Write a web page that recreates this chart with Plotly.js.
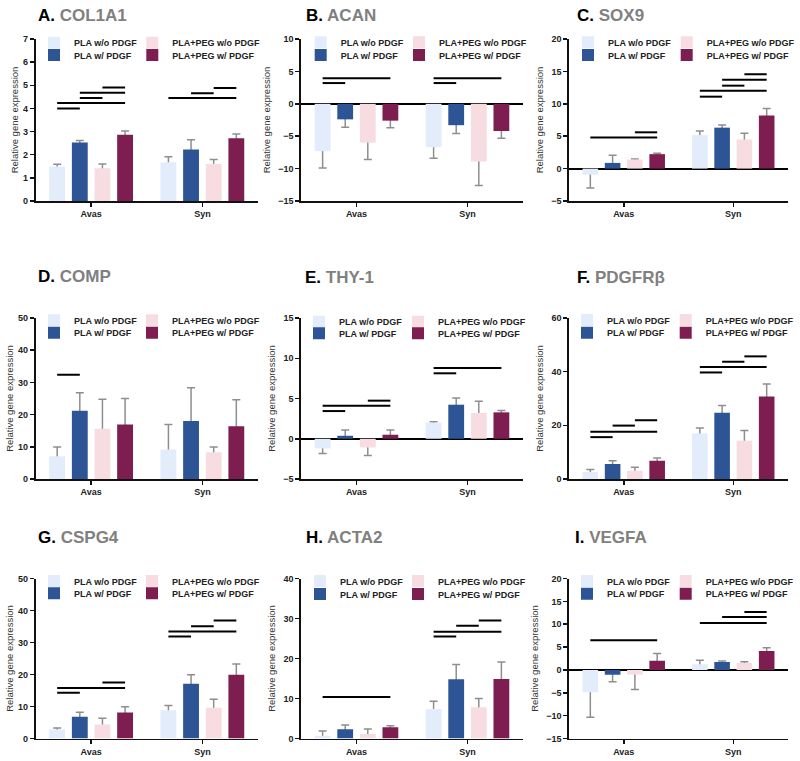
<!DOCTYPE html>
<html><head><meta charset="utf-8">
<script src="https://cdn.plot.ly/plotly-3.0.1.min.js"></script>
<style>body{margin:0;background:#fff}#chart{width:800px;height:761px}</style>
</head><body><div id="chart"></div>
<script>
// ---------- DATA ----------
const categories = ['Avas', 'Syn'];
const seriesNames = ['PLA w/o PDGF', 'PLA w/ PDGF', 'PLA+PEG w/o PDGF', 'PLA+PEG w/ PDGF'];
const panelLetters = ['A.', 'B.', 'C.', 'D.', 'E.', 'F.', 'G.', 'H.', 'I.'];
const geneNames = ['COL1A1', 'ACAN', 'SOX9', 'COMP', 'THY-1', 'PDGFRβ', 'CSPG4', 'ACTA2', 'VEGFA'];
const yAxisTitle = 'Relative gene expression';

// means: one [Avas, Syn] pair per series (order as seriesNames)
const col1a1Mean = [[1.49, 1.67], [2.53, 2.22], [1.41, 1.60], [2.86, 2.71]];
const col1a1Err  = [[0.10, 0.24], [0.08, 0.43], [0.19, 0.19], [0.17, 0.19]];
// significance bars: [category index, from series, to series, level]
const col1a1Sig  = [[0, 0, 1, 4.0], [0, 0, 3, 4.23], [0, 1, 2, 4.45], [0, 1, 3, 4.68], [0, 2, 3, 4.9], [1, 0, 3, 4.45], [1, 1, 2, 4.66], [1, 2, 3, 4.88]];

const acanMean = [[-7.3, -6.7], [-2.4, -3.3], [-6.0, -8.9], [-2.6, -4.2]];
const acanErr  = [[2.6, 1.7], [1.2, 1.3], [2.6, 3.7], [1.1, 1.1]];
const acanSig  = [[0, 0, 3, 3.95], [0, 0, 1, 3.2], [1, 0, 3, 3.95], [1, 0, 1, 3.2]];

const sox9Mean = [[-0.93, 5.18], [0.88, 6.32], [1.4, 4.5], [2.23, 8.19]];
const sox9Err  = [[2.07, 0.62], [1.19, 0.42], [0.1, 0.94], [0.15, 1.08]];
const sox9Sig  = [[0, 0, 3, 4.8], [0, 2, 3, 5.6], [1, 0, 1, 11.1], [1, 0, 3, 12.0], [1, 1, 2, 12.8], [1, 1, 3, 13.7], [1, 2, 3, 14.56]];

const compMean = [[7.1, 9.2], [21.2, 18.0], [15.6, 8.3], [16.9, 16.4]];
const compErr  = [[2.8, 7.7], [5.6, 10.3], [9.2, 1.6], [8.1, 8.2]];
const compSig  = [[0, 0, 1, 32.4]];

const thy1Mean = [[-1.2, 2.0], [0.37, 4.23], [-1.08, 3.2], [0.5, 3.28]];
const thy1Err  = [[0.63, 0.1], [0.71, 0.83], [0.99, 1.45], [0.58, 0.22]];
const thy1Sig  = [[0, 0, 1, 3.44], [0, 0, 3, 4.1], [0, 2, 3, 4.73], [1, 0, 1, 8.13], [1, 0, 3, 8.8]];

const pdgfrbMean = [[2.6, 17.0], [5.6, 24.7], [3.1, 14.3], [6.8, 30.7]];
const pdgfrbErr  = [[0.9, 2.0], [1.2, 2.7], [1.3, 3.8], [1.0, 4.7]];
const pdgfrbSig  = [[0, 0, 1, 15.6], [0, 0, 3, 17.6], [0, 1, 2, 19.9], [0, 2, 3, 21.9], [1, 0, 1, 39.7], [1, 0, 3, 41.7], [1, 1, 2, 43.7], [1, 2, 3, 45.7]];

const cspg4Mean = [[2.8, 8.85], [6.8, 17.1], [4.4, 9.6], [8.1, 19.9]];
const cspg4Err  = [[0.5, 1.45], [1.4, 2.8], [1.95, 2.7], [1.8, 3.4]];
const cspg4Sig  = [[0, 0, 1, 14.3], [0, 0, 3, 15.8], [0, 2, 3, 17.5], [1, 0, 1, 31.9], [1, 0, 3, 33.4], [1, 1, 2, 35.1], [1, 2, 3, 36.9]];

const acta2Mean = [[0.67, 7.4], [2.34, 14.8], [1.1, 7.8], [2.84, 14.9]];
const acta2Err  = [[1.23, 1.9], [1.06, 3.7], [1.3, 2.2], [0.36, 4.2]];
const acta2Sig  = [[0, 0, 3, 10.4], [1, 0, 1, 25.5], [1, 0, 3, 26.7], [1, 1, 2, 28.2], [1, 2, 3, 29.5]];

const vegfaMean = [[-4.86, 1.24], [-1.07, 1.75], [-1.0, 1.53], [2.0, 4.15]];
const vegfaErr  = [[5.5, 0.86], [1.5, 0.21], [3.3, 0.27], [1.57, 0.72]];
const vegfaSig  = [[0, 0, 3, 6.5], [1, 0, 3, 10.25], [1, 1, 3, 11.56], [1, 2, 3, 12.65]];

const yRanges = [[0, 7], [-15, 10], [-5, 20], [0, 50], [-5, 15], [0, 60], [0, 50], [0, 40], [-15, 20]];
const yDticks = [1, 5, 5, 10, 5, 20, 10, 10, 5];

// ---------- STYLE / LAYOUT ----------
const barColors = ['#e3ecfb', '#2d5595', '#f7dde2', '#7e1d4f'];
const errColor = '#8e8e8e';
const FONT = 'Liberation Sans, Arial, sans-serif';
const W = 800, H = 761;
const bargap = 0.186, bargroupgap = 0.3;

const meansAll = [col1a1Mean, acanMean, sox9Mean, compMean, thy1Mean, pdgfrbMean, cspg4Mean, acta2Mean, vegfaMean];
const errsAll = [col1a1Err, acanErr, sox9Err, compErr, thy1Err, pdgfrbErr, cspg4Err, acta2Err, vegfaErr];
const sigsAll = [col1a1Sig, acanSig, sox9Sig, compSig, thy1Sig, pdgfrbSig, cspg4Sig, acta2Sig, vegfaSig];

// plot-area pixel boxes
const colPx = [[35.5, 258], [301, 523], [569, 788]];
const rowPx = [[39, 201], [318, 479], [578.5, 738.5]];
const titlePos = [[36, 16], [304, 16], [575, 16], [36, 276], [303, 277], [575, 277], [36, 537], [304, 537], [573, 537]];
const legendRowsY = [[42.7, 55], [42.3, 55], [42.3, 55], [320.3, 332.7], [321.7, 333.3], [320, 332.7], [581, 593.3], [581, 594], [581, 593.7]];
const legendColX = [[55, 153.3], [321.7, 420], [589, 687.7], [55, 153], [320, 419], [588, 686.7], [55, 153], [321, 419], [588, 686.7]];
const titleStandoff = [3, 6, 6];

const data = [];
const layout = {
  width: W, height: H,
  margin: {l: 0, r: 0, t: 0, b: 0},
  paper_bgcolor: '#fff', plot_bgcolor: 'rgba(0,0,0,0)',
  barmode: 'group', bargap: bargap, bargroupgap: bargroupgap,
  font: {family: FONT, color: '#222'},
  shapes: [], annotations: []
};

const slot = (1 - bargap) / 4;
function barCenter(cat, k) { return cat + (k - 1.5) * slot; }

let legendCount = 0;
function newLegendId() { legendCount++; return legendCount === 1 ? 'legend' : 'legend' + legendCount; }

for (let p = 0; p < 9; p++) {
  const r = Math.floor(p / 3), c = p % 3;
  const sfx = p === 0 ? '' : String(p + 1);
  const xa = 'x' + sfx, ya = 'y' + sfx;
  // error-bar carriers (drawn underneath the visible bars)
  for (let k = 0; k < 4; k++) {
    const vals = meansAll[p][k];
    const errs = errsAll[p][k];
    data.push({
      type: 'bar', x: categories, y: vals, name: seriesNames[k] + ' SEM',
      xaxis: xa, yaxis: ya, offsetgroup: String(k), showlegend: false,
      marker: {color: 'rgba(0,0,0,0)', line: {width: 0}},
      error_y: {
        type: 'data', symmetric: false,
        array: vals.map((v, i) => v >= 0 ? errs[i] : Math.abs(v) * 0.5),
        arrayminus: vals.map((v, i) => v < 0 ? errs[i] : Math.abs(v) * 0.5),
        color: errColor, thickness: 1.5, width: 4
      },
      hoverinfo: 'skip'
    });
  }
  // visible bars, one legend per entry (2x2 grid)
  for (let k = 0; k < 4; k++) {
    const legId = newLegendId();
    data.push({
      type: 'bar', x: categories, y: meansAll[p][k], name: seriesNames[k],
      xaxis: xa, yaxis: ya, offsetgroup: String(k), legend: legId,
      marker: {color: barColors[k], line: {width: 0}},
      hoverinfo: 'skip'
    });
    const colIdx = (k === 0 || k === 1) ? 0 : 1;
    const rowIdx = (k === 0 || k === 2) ? 0 : 1;
    layout[legId] = {
      orientation: 'v', xanchor: 'left', yanchor: 'middle',
      x: (legendColX[p][colIdx] - 21) / W, y: 1 - legendRowsY[p][rowIdx] / H,
      bgcolor: 'rgba(0,0,0,0)', borderwidth: 0,
      font: {size: 9, family: FONT, color: '#222', weight: 'bold'},
      itemclick: false, itemdoubleclick: false
    };
  }
  const [xl, xr] = colPx[c];
  const [yt, yb] = rowPx[r];
  const hasNeg = yRanges[p][0] < 0;
  layout['xaxis' + sfx] = {
    domain: [xl / W, xr / W], anchor: ya, type: 'category', range: [-0.5, 1.5],
    showline: true, linecolor: '#111', linewidth: 1.6, mirror: false,
    ticks: 'outside', ticklen: 4, tickwidth: 1.5, tickcolor: '#111',
    tickfont: {size: 9, family: FONT, color: '#222', weight: 'bold'},
    showgrid: false, zeroline: false, fixedrange: true
  };
  layout['yaxis' + sfx] = {
    domain: [1 - yb / H, 1 - yt / H], anchor: xa, range: yRanges[p],
    tick0: 0, dtick: yDticks[p],
    showline: true, linecolor: '#111', linewidth: 1.6,
    ticks: 'outside', ticklen: 4, tickwidth: 1.5, tickcolor: '#111',
    tickfont: {size: 9, family: FONT, color: '#222', weight: 'bold'},
    showgrid: false, zeroline: hasNeg, zerolinecolor: '#000', zerolinewidth: 2,
    title: {text: yAxisTitle, font: {size: 9.5, family: FONT, color: '#333'}, standoff: titleStandoff[c]},
    fixedrange: true
  };
  // significance lines
  sigsAll[p].forEach(s => {
    layout.shapes.push({
      type: 'line', xref: xa, yref: ya,
      x0: barCenter(s[0], s[1]), x1: barCenter(s[0], s[2]), y0: s[3], y1: s[3],
      line: {color: '#000', width: 2}
    });
  });
  // panel title
  layout.annotations.push({
    xref: 'paper', yref: 'paper', x: titlePos[p][0] / W, y: 1 - titlePos[p][1] / H,
    xanchor: 'left', yanchor: 'middle', showarrow: false,
    text: '<b>' + panelLetters[p] + ' <span style="color:#808080">' + geneNames[p] + '</span></b>',
    font: {size: 17, family: FONT, color: '#000'}
  });
}

Plotly.newPlot('chart', data, layout, {staticPlot: true, displayModeBar: false});
</script>
</body></html>
